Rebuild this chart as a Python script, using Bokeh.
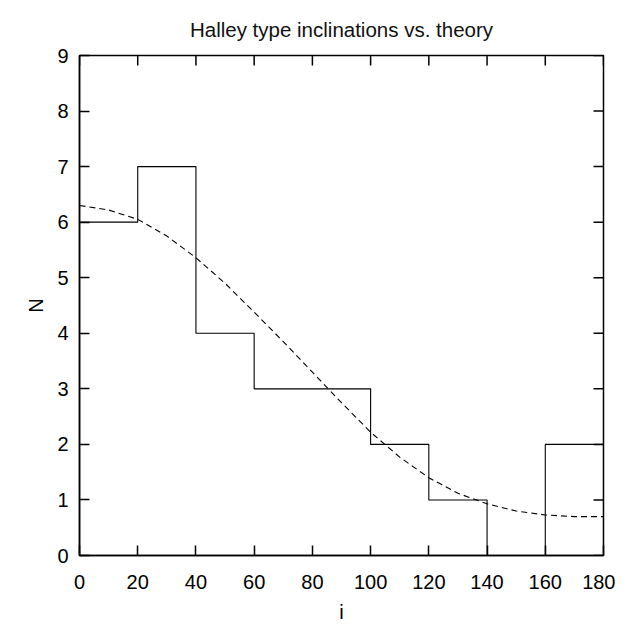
import math
from bokeh.plotting import figure
from bokeh.models import Range1d, FixedTicker
from bokeh.embed import file_html
from bokeh.resources import INLINE

# histogram of Halley-type inclinations
bin_edges = [0, 20, 40, 60, 80, 100, 120, 140, 160, 180]
counts = [6, 7, 4, 3, 3, 2, 1, 0, 2]

# theoretical curve
theory_i = [0, 10, 20, 30, 40, 50, 60, 70, 80, 90, 100, 110, 120, 130, 140, 150, 160, 170, 180]
theory_n = [6.30, 6.22, 6.05, 5.75, 5.36, 4.90, 4.38, 3.85, 3.30, 2.75, 2.22, 1.77, 1.40, 1.12, 0.93, 0.80, 0.73, 0.70, 0.70]

x_ticks = [0, 20, 40, 60, 80, 100, 120, 140, 160, 180]
y_ticks = [0, 1, 2, 3, 4, 5, 6, 7, 8, 9]

FONT = "Liberation Sans"
x_min, x_max = x_ticks[0], x_ticks[-1]
y_min, y_max = y_ticks[0], y_ticks[-1]

p = figure(width=615, height=626, output_backend="svg", toolbar_location=None,
           x_range=Range1d(x_min, x_max), y_range=Range1d(y_min, y_max),
           x_axis_label="i", y_axis_label="N",
           min_border_left=79, min_border_right=12, min_border_top=55, min_border_bottom=71)
p.title.text = "Halley type inclinations vs. theory"
p.title.align = "center"
p.title.text_font = FONT
p.title.text_font_style = "normal"
p.title.text_font_size = "20.5px"
p.title.text_color = "#111111"
p.title.standoff = 30

p.grid.visible = False
p.outline_line_color = "black"
p.outline_line_width = 1.5

for ax in p.axis:
    ax.axis_line_width = 1.5
    ax.major_tick_in = 10
    ax.major_tick_out = 0
    ax.major_tick_line_width = 1.5
    ax.minor_tick_line_color = None
    ax.major_label_text_font = FONT
    ax.major_label_text_font_size = "20px"
    ax.major_label_text_color = "black"
    ax.axis_label_text_font = FONT
    ax.axis_label_text_font_size = "20px"
    ax.axis_label_text_font_style = "normal"
    ax.axis_label_text_color = "black"

p.xaxis.ticker = FixedTicker(ticks=x_ticks)
p.yaxis.ticker = FixedTicker(ticks=y_ticks)
p.xaxis.major_label_standoff = 19
p.yaxis.major_label_standoff = 11
p.xaxis.axis_label_standoff = 9
p.yaxis.axis_label_standoff = 7

# mirrored inward ticks on the top and right edges
p.ray(x=[x_max] * len(y_ticks), y=y_ticks, length=10, length_units="screen",
      angle=math.pi, line_color="black", line_width=1.5)
p.ray(x=x_ticks, y=[y_max] * len(x_ticks), length=10, length_units="screen",
      angle=-math.pi / 2, line_color="black", line_width=1.5)

# step outline built from bins
xs = [bin_edges[0]]
ys = [0]
for k, c in enumerate(counts):
    xs += [bin_edges[k], bin_edges[k + 1]]
    ys += [c, c]
xs.append(bin_edges[-1])
ys.append(0)
p.line(xs, ys, line_color="black", line_width=1.1)

p.line(theory_i, theory_n, line_color="black", line_width=1.1, line_dash="6 4")

open("out.html", "w").write(file_html(p, INLINE))
